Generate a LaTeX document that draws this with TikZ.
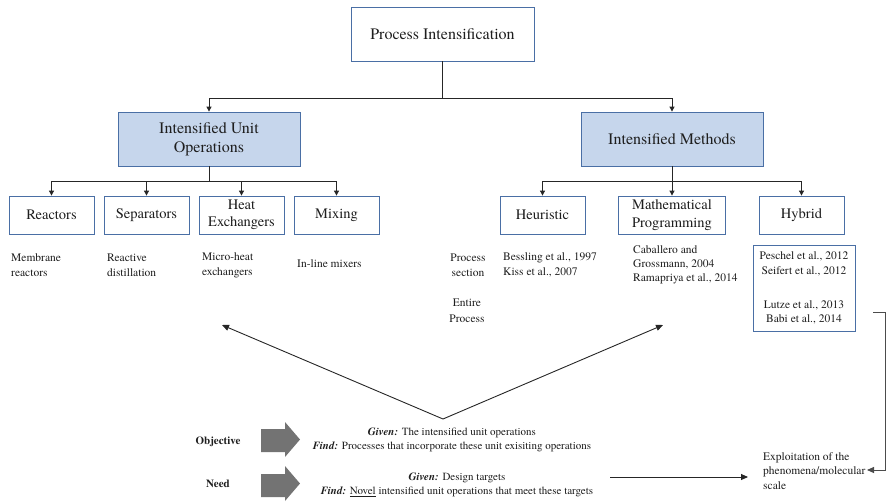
\documentclass[tikz,border=0pt]{standalone}
\usepackage{fontspec}
\setmainfont{texgyretermes}[Extension=.otf, UprightFont=*-regular, BoldFont=*-bold, ItalicFont=*-italic, BoldItalicFont=*-bolditalic]
\usetikzlibrary{arrows.meta,calc}
\definecolor{bordc}{HTML}{4A6FA5}
\definecolor{fillc}{HTML}{C6D6EC}
\definecolor{txtc}{HTML}{1E1E1E}
\definecolor{garr}{HTML}{737373}
\tikzset{
 box/.style={draw=bordc, line width=0.8pt, text=txtc, align=center, inner sep=0pt},
 topbox/.style={box, fill=white, minimum width=183pt, minimum height=54pt, font=\fontsize{16}{19}\selectfont},
 midbox/.style={box, fill=fillc, minimum width=182pt, minimum height=54pt, font=\fontsize{16}{19}\selectfont},
 subbox/.style={box, fill=white, minimum width=85pt, minimum height=38pt, font=\fontsize{14.5}{17.5}\selectfont},
 lbl/.style={text=txtc, align=left, inner sep=0pt, font=\fontsize{11.5}{14.8}\selectfont},
 gf/.style={text=txtc, align=center, inner sep=0pt, font=\fontsize{11}{14.5}\selectfont},
 bl/.style={text=txtc, inner sep=0pt, font=\fontsize{11}{13}\selectfont\bfseries},
 conn/.style={draw=black!85, line width=0.9pt},
 arr/.style={conn, -{Triangle[length=5pt,width=5pt]}},
 bigarr/.style={conn, -{Triangle[length=7pt,width=6pt]}},
}
\begin{document}
\begin{tikzpicture}[x=1pt,y=-1pt]
\useasboundingbox (0,0) rectangle (889,501);
% boxes
\node[topbox] (pi) at (442.5,34) {Process Intensification};
\node[midbox] (iuo) at (209,139) {Intensified Unit\\Operations};
\node[midbox] (im) at (672,139) {Intensified Methods};
\node[subbox] (rea) at (51.5,215) {Reactors};
\node[subbox] (sep) at (146.5,215) {Separators};
\node[subbox] (hex) at (241.5,215) {Heat\\Exchangers};
\node[subbox] (mix) at (336.5,215) {Mixing};
\node[subbox] (heu) at (542.5,215) {Heuristic};
\node[subbox, minimum width=107pt] (mp) at (672,215) {Mathematical\\Programming};
\node[subbox] (hyb) at (801.5,215) {Hybrid};
% tree connectors
\coordinate (j1) at (442.5,98);
\draw[conn] (pi.south) -- (j1);
\draw[arr] (j1) -| (iuo.north);
\draw[arr] (j1) -| (im.north);
\coordinate (j2) at (209,181);
\draw[conn] (iuo.south) -- (j2);
\foreach \n in {rea,sep,hex,mix} \draw[arr] (j2) -| (\n.north);
\coordinate (j3) at (672,181);
\draw[conn] (im.south) -- (j3);
\foreach \n in {heu,mp,hyb} \draw[arr] (j3) -| (\n.north);
% labels
\node[lbl, anchor=west] (l1) at (11,265) {Membrane\\reactors};
\node[lbl, anchor=west] (l2) at (107,265) {Reactive\\distillation};
\node[lbl, anchor=west] (l3) at (202,265) {Micro-heat\\exchangers};
\node[lbl, anchor=west] (l4) at (297,264) {In-line mixers};
\node[lbl, align=center] (ps) at (468,265) {Process\\section};
\node[lbl, align=center] (ep) at (467,311) {Entire\\[1pt]Process};
\node[lbl, anchor=west] (bes) at (503,265) {Bessling et al., 1997\\Kiss et al., 2007};
\node[lbl, anchor=west, font=\fontsize{11.5}{14}\selectfont] (cab) at (633,265) {Caballero and\\Grossmann, 2004\\Ramapriya et al., 2014};
\node[lbl, box, fill=white, align=center, minimum width=102pt, minimum height=86pt] (hc) at (804,288)
  {Peschel et al., 2012\\Seifert et al., 2012\\[19pt]Lutze et al., 2013\\Babi et al., 2014};
% V arrows
\coordinate (apex) at (443,419);
\coordinate (tl) at (222,325);
\coordinate (tr) at (663,325);
\draw[bigarr] (apex) -- (tl);
\draw[bigarr] (apex) -- (tr);
% gray block arrows
\fill[garr] (261,429) -- (285,429) -- (285,422) -- (300,439.5) -- (285,457) -- (285,452) -- (261,452) -- cycle;
\fill[garr] (261,474) -- (285,474) -- (285,466) -- (300,483.5) -- (285,501) -- (285,497) -- (261,497) -- cycle;
\node[bl] (obj) at (218,442) {Objective};
\node[bl] (need) at (218,484) {Need};
\node[gf] (gf1) at (452,440) {\textbf{\textit{Given:}} The intensified unit operations\\\textbf{\textit{Find:}} Processes that incorporate these unit exisiting operations};
\node[gf] (gf2) at (457,485) {\textbf{\textit{Given:}} Design targets\\\textbf{\textit{Find:}} \underline{Novel} intensified unit operations that meet these targets};
% exploitation
\node[lbl, anchor=west] (ex) at (763,471) {Exploitation of the\\phenomena/molecular\\scale};
\coordinate (na) at (610,477);
\draw[bigarr, shorten >=15pt] (na) -- (ex.west |- na);
\coordinate (h1) at (873,312);
\coordinate (h2) at (885,470);
\coordinate (h3) at (867,470);
\draw[bigarr, draw=black!70] (h1) -| (h2) -- (h3);
\end{tikzpicture}
\end{document}
